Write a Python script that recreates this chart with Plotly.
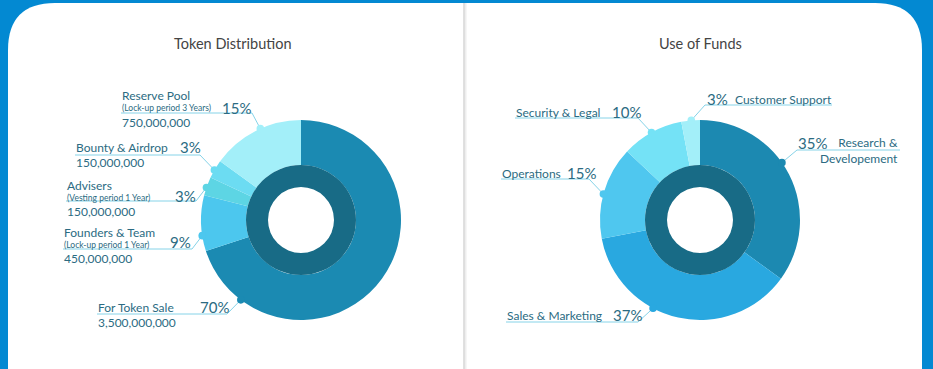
import math
import plotly.graph_objects as go

# ---------------- data ----------------
left_title = "Token Distribution"
left_labels = ["For Token Sale", "Founders & Team", "Advisers", "Bounty & Airdrop", "Reserve Pool"]
left_values = [70, 9, 3, 3, 15]
left_notes = ["", "(Lock-up period 1 Year)", "(Vesting period 1 Year)", "", "(Lock-up period 3 Years)"]
left_tokens = ["3,500,000,000", "450,000,000", "150,000,000", "150,000,000", "750,000,000"]
left_colors = ["#1b8ab2", "#4cc7ee", "#5dd5e4", "#6cdcf2", "#a3eff9"]

right_title = "Use of Funds"
right_labels = ["Research & Developement", "Sales & Marketing", "Operations", "Security & Legal", "Customer Support"]
right_values = [35, 37, 15, 10, 3]
right_colors = ["#1c89b1", "#29a8e0", "#4fc7ef", "#74e2f6", "#a3eff9"]

# ---------------- layout constants ----------------
W, H = 933, 369
BLUE = "#0389d2"
TEXT = "#2b6b82"
LINE = "#86d3e8"
RING = "#186b86"
FONT = "Lato"
R_OUT, R_RING, R_HOLE = 100, 55, 33
LC = (301, 220)
RC = (700, 220)

fig = go.Figure()


def add_donut(center, values, labels, colors):
    cx, cy = center
    fig.add_trace(go.Pie(
        values=values, labels=labels, sort=False, direction="clockwise", rotation=0,
        hole=R_RING / R_OUT, textinfo="none", hoverinfo="skip", showlegend=False,
        marker=dict(colors=colors, line=dict(width=0)),
        domain=dict(x=[(cx - R_OUT) / W, (cx + R_OUT) / W],
                    y=[(H - cy - R_OUT) / H, (H - cy + R_OUT) / H]),
    ))
    fig.add_trace(go.Pie(
        values=[1], labels=["ring"], sort=False, hole=R_HOLE / R_RING, textinfo="none",
        hoverinfo="skip", showlegend=False, marker=dict(colors=[RING], line=dict(width=0)),
        domain=dict(x=[(cx - R_RING) / W, (cx + R_RING) / W],
                    y=[(H - cy - R_RING) / H, (H - cy + R_RING) / H]),
    ))


add_donut(LC, left_values, left_labels, left_colors)
add_donut(RC, right_values, right_labels, right_colors)

shapes = []
annotations = []

# white panel
shapes.append(dict(type="path", layer="below", xref="x", yref="y",
                   path="M 8,420 L 8,50 Q 8,3 55,3 L 875,3 Q 922,3 922,50 L 922,420 Z",
                   fillcolor="white", line=dict(width=0)))
# divider
shapes.append(dict(type="line", layer="below", xref="x", yref="y", x0=465.5, x1=465.5, y0=3, y1=369,
                   line=dict(color="#eeeeee", width=2)))
shapes.append(dict(type="line", layer="below", xref="x", yref="y", x0=464, x1=464, y0=3, y1=369,
                   line=dict(color="#d6d6d6", width=1.5)))


def txt(x, y, s, size, anchor="left", color=TEXT, align="left"):
    annotations.append(dict(x=x, y=y, xref="x", yref="y", text=s, showarrow=False,
                            xanchor=anchor, yanchor="middle", align=align,
                            font=dict(family=FONT, size=size, color=color), borderpad=0))


def leader(center, angle, color, lx0, lx1, ly, end_x):
    cx, cy = center
    a = math.radians(angle)
    dx, dy = cx + R_OUT * math.sin(a), cy - R_OUT * math.cos(a)
    shapes.append(dict(type="line", layer="above", xref="x", yref="y", x0=lx0, x1=lx1, y0=ly, y1=ly,
                       line=dict(color=LINE, width=1)))
    shapes.append(dict(type="line", layer="above", xref="x", yref="y", x0=end_x, x1=dx, y0=ly, y1=dy,
                       line=dict(color=LINE, width=1)))
    r = 3.8
    shapes.append(dict(type="circle", layer="above", xref="x", yref="y", x0=dx - r, x1=dx + r,
                       y0=dy - r, y1=dy + r, fillcolor=color, line=dict(width=0)))


# titles
txt(232, 43, left_title, 14.5, anchor="center", color="#444444")
txt(700, 43, right_title, 14.5, anchor="center", color="#444444")

# left labels: name_x, name_y, pct_x, pct_y, line_y, line_end, dot angle, token_y
left_pos = [
    (97, 307, 199, 307, 314, 227, 217, 322),
    (63, 232, 169, 242, 249, 192, 261, 258),
    (66, 185, 174, 196, 201, 196, 289, 211),
    (75, 147, 179, 147, 155, 200, 300, 162),
    (121, 95, 221, 108, 113, 252, 336, 122),
]
for i, (nx, ny, px, py, ly, le, ang, ty) in enumerate(left_pos):
    txt(nx, ny, left_labels[i], 12)
    if left_notes[i]:
        txt(nx, ny + 13, left_notes[i], 8.5)
    txt(px, py, f"{left_values[i]}%", 15)
    txt(nx, ty, left_tokens[i], 12)
    leader(LC, ang, left_colors[i], nx, le, ly, le)

# right labels
# R&D
txt(797, 143, f"{right_values[0]}%", 15)
txt(899, 150, right_labels[0].replace("& ", "&<br>"), 12, anchor="right", align="right")
leader(RC, 55, right_colors[0], 797, 900, 150, 797)
# Sales & Marketing
txt(506, 315, right_labels[1], 12)
txt(612, 315, f"{right_values[1]}%", 15)
leader(RC, 208, right_colors[1], 506, 638, 322, 638)
# Operations
txt(501, 173, right_labels[2], 12)
txt(566, 173, f"{right_values[2]}%", 15)
leader(RC, 285, right_colors[2], 501, 589, 179, 589)
# Security & Legal
txt(515, 112, right_labels[3], 12)
txt(611, 112, f"{right_values[3]}%", 15)
leader(RC, 331, right_colors[3], 515, 638, 118, 638)
# Customer Support
txt(706, 99, f"{right_values[4]}%", 15)
txt(734, 99, right_labels[4], 12)
leader(RC, 355, right_colors[4], 705, 832, 105, 705)

fig.update_layout(
    width=W, height=H, margin=dict(l=0, r=0, t=0, b=0),
    paper_bgcolor=BLUE, plot_bgcolor=BLUE,
    xaxis=dict(range=[0, W], visible=False, fixedrange=True),
    yaxis=dict(range=[H, 0], visible=False, fixedrange=True),
    shapes=shapes, annotations=annotations, showlegend=False,
)
fig.write_html("out.html", config={"displayModeBar": False},
               post_script="document.body.style.margin='0';document.body.style.overflow='hidden';")
